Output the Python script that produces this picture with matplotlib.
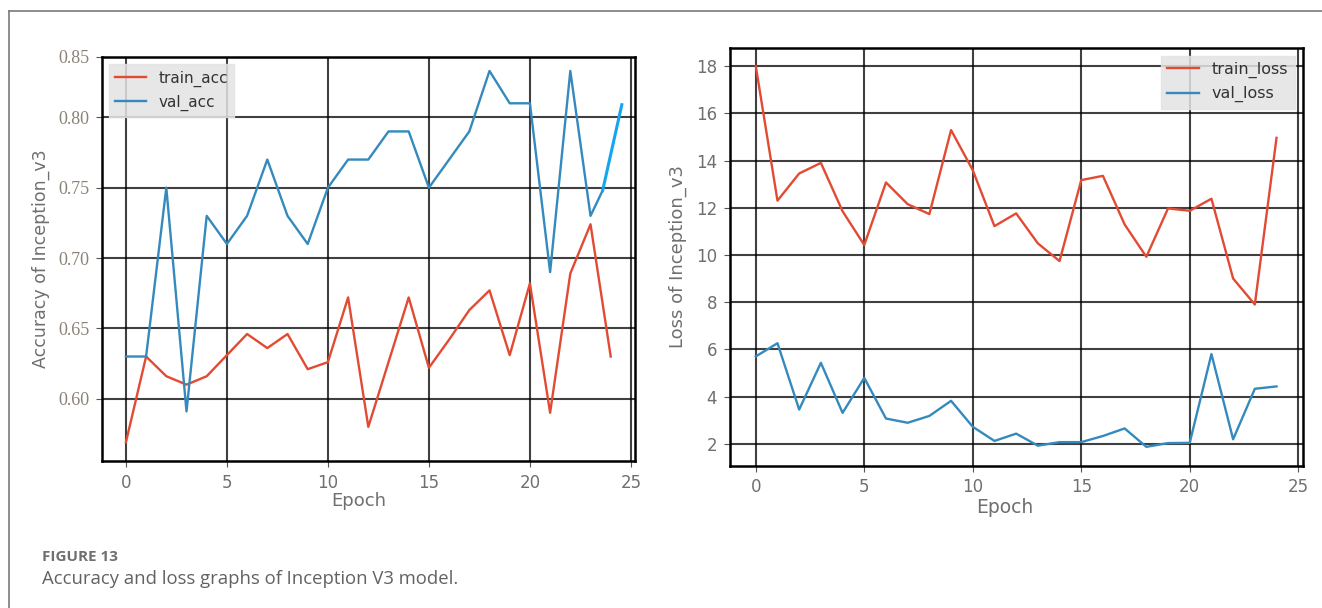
import matplotlib
matplotlib.use("Agg")
import matplotlib.pyplot as plt
from matplotlib.lines import Line2D

# ---------- DATA ----------
epochs = list(range(25))

train_acc = [0.569, 0.630, 0.616, 0.610, 0.616, 0.631, 0.646, 0.636, 0.646, 0.621,
             0.626, 0.672, 0.580, 0.626, 0.672, 0.622, 0.642, 0.663, 0.677, 0.631,
             0.682, 0.590, 0.689, 0.724, 0.630]

# val_acc stops a bit past epoch 23, then a hand-drawn brighter segment follows
val_epochs = list(range(24)) + [23.6]
val_acc = [0.630, 0.630, 0.750, 0.591, 0.730, 0.710, 0.730, 0.770, 0.730, 0.710,
           0.750, 0.770, 0.770, 0.790, 0.790, 0.750, 0.770, 0.790, 0.833, 0.810,
           0.810, 0.690, 0.833, 0.730, 0.748]
val_tail_epochs = [23.6, 24.55]
val_tail_acc = [0.748, 0.809]

train_loss = [18.0, 12.30, 13.45, 13.90, 11.85, 10.42, 13.07, 12.15, 11.73, 15.29,
              13.59, 11.22, 11.76, 10.49, 9.74, 13.17, 13.35, 11.29, 9.92, 11.97,
              11.87, 12.38, 9.00, 7.90, 14.96]
val_loss = [5.70, 6.26, 3.45, 5.43, 3.31, 4.79, 3.07, 2.89, 3.18, 3.82,
            2.72, 2.12, 2.43, 1.92, 2.07, 2.07, 2.33, 2.65, 1.87, 2.03,
            2.04, 5.80, 2.19, 4.33, 4.43]

x_ticks = [0, 5, 10, 15, 20, 25]
acc_ticks = [0.60, 0.65, 0.70, 0.75, 0.80]
loss_ticks = [2, 4, 6, 8, 10, 12, 14, 16, 18]

RED = "#E24A33"
BLUE = "#348ABD"
TAIL = "#14A5EE"
GRAY = "#6f6f6f"

# ---------- FIGURE ----------
fig = plt.figure(figsize=(13.22, 6.08), dpi=100)

# page border (only top and left visible)
fig.add_artist(Line2D([0.0068, 1.0], [0.982, 0.982], color="#7a7a7a", lw=1.2))
fig.add_artist(Line2D([0.0068, 0.0068], [0.0, 0.982], color="#7a7a7a", lw=1.2))


def style_axes(ax):
    ax.grid(True, color="black", linewidth=1.5, alpha=0.75)
    ax.set_axisbelow(True)
    for s in ax.spines.values():
        s.set_color("black")
        s.set_linewidth(1.8)
    ax.tick_params(colors="#555555", labelcolor=GRAY, labelsize=12, length=4, pad=5)
    ax.set_xlim(-1.2, 25.2)
    ax.set_xticks(x_ticks)


# ---------- ACCURACY ----------
ax1 = fig.add_axes([0.0769, 0.2417, 0.4034, 0.6650])
ax1.plot(epochs, train_acc, color=RED, lw=1.7, label="train_acc")
ax1.plot(val_epochs, val_acc, color=BLUE, lw=1.7, label="val_acc")
ax1.plot(val_tail_epochs, val_tail_acc, color=TAIL, lw=2.2)
style_axes(ax1)
ax1.set_ylim(0.5557, 0.8431)
ax1.set_yticks(acc_ticks + [0.8431], ["0.60", "0.65", "0.70", "0.75", "0.80", "0.85"])
for lab in ax1.get_yticklabels():
    lab.set_fontfamily("Liberation Serif")
    lab.set_color("#8a8276")
    lab.set_fontsize(13)
ax1.set_ylabel("Accuracy of Inception_v3", fontsize=12.5, color=GRAY)
ax1.yaxis.set_label_coords(-0.114, 0.5)
ax1.yaxis.label.set_va("center")
ax1.set_xlabel("Epoch", fontsize=13, color=GRAY)
ax1.xaxis.set_label_coords(0.4825, -0.098)
ax1.xaxis.label.set_va("center")
leg1 = ax1.legend(loc="upper left", fontsize=11, facecolor="#E3E3E3",
                  edgecolor="#E3E3E3", framealpha=0.85, fancybox=False)
for t in leg1.get_texts():
    t.set_color("#333333")

# ---------- LOSS ----------
ax2 = fig.add_axes([0.5520, 0.2336, 0.4333, 0.6880])
ax2.plot(epochs, train_loss, color=RED, lw=1.7, label="train_loss")
ax2.plot(epochs, val_loss, color=BLUE, lw=1.7, label="val_loss")
style_axes(ax2)
ax2.set_ylim(1.06, 18.78)
ax2.set_yticks(loss_ticks)
ax2.set_ylabel("Loss of Inception_v3", fontsize=13, color=GRAY)
ax2.yaxis.set_label_coords(-0.090, 0.5)
ax2.yaxis.label.set_va("center")
ax2.set_xlabel("Epoch", fontsize=13.5, color=GRAY)
ax2.xaxis.set_label_coords(0.4805, -0.100)
ax2.xaxis.label.set_va("center")
leg2 = ax2.legend(loc="upper right", fontsize=11.5, facecolor="#E3E3E3",
                  edgecolor="#E3E3E3", framealpha=0.85, fancybox=False)
for t in leg2.get_texts():
    t.set_color("#333333")

# ---------- CAPTION ----------
fig.text(0.0318, 0.0844, "FIGURE 13", fontsize=11, fontweight="bold",
         color="#707070", family="Open Sans", va="center")
fig.text(0.0318, 0.0477, "Accuracy and loss graphs of Inception V3 model.",
         fontsize=13.3, color="#626262", family="Open Sans", va="center")

fig.savefig("out.png", dpi=100)
